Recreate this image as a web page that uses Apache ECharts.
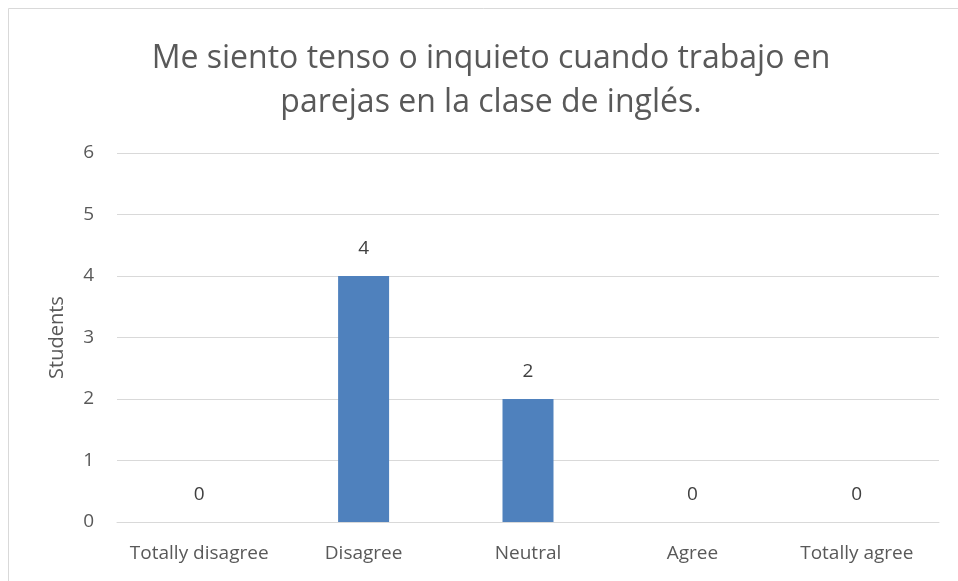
<!DOCTYPE html>
<html>
<head>
<meta charset="utf-8">
<script src="https://cdn.jsdelivr.net/npm/echarts@6/dist/echarts.min.js"></script>
<style>
  html, body { margin: 0; padding: 0; background: #fff; }
  #chart { width: 958px; height: 581px; }
</style>
</head>
<body>
<div id="chart"></div>
<script>
const titleText = 'Me siento tenso o inquieto cuando trabajo en\nparejas en la clase de inglés.'
const categories = ['Totally disagree', 'Disagree', 'Neutral', 'Agree', 'Totally agree']
const students = [0, 4, 2, 0, 0]
const yTicks = { min: 0, max: 6, interval: 1 }

const font = '"Open Sans", "Noto Sans", sans-serif'
const chart = echarts.init(document.getElementById('chart'), null, { renderer: 'canvas' })

chart.setOption({
  animation: false,
  backgroundColor: '#fff',
  textStyle: { fontFamily: font },
  graphic: [{
    type: 'rect',
    shape: { x: 8.5, y: 8.5, width: 960, height: 600 },
    style: { fill: 'none', stroke: '#d9d9d9', lineWidth: 1 },
    silent: true
  }],
  title: {
    text: titleText,
    left: 486,
    top: 32,
    textAlign: 'center',
    textStyle: {
      fontFamily: font,
      fontSize: 32,
      fontWeight: 'normal',
      color: '#595959',
      lineHeight: 44
    }
  },
  grid: { left: 117, right: 19, top: 153, bottom: 59, containLabel: false },
  xAxis: {
    type: 'category',
    data: categories,
    axisLine: { show: true, lineStyle: { color: '#d9d9d9', width: 1 } },
    axisTick: { show: false },
    axisLabel: { interval: 0, color: '#595959', fontSize: 19, margin: 22, fontFamily: font }
  },
  yAxis: {
    type: 'value',
    min: yTicks.min,
    max: yTicks.max,
    interval: yTicks.interval,
    name: 'Students',
    nameLocation: 'middle',
    nameGap: 50,
    nameRotate: 90,
    nameTextStyle: { color: '#595959', fontSize: 20, fontFamily: font },
    axisLine: { show: false },
    axisTick: { show: false },
    axisLabel: { color: '#595959', fontSize: 19, margin: 23, fontFamily: font },
    splitLine: { lineStyle: { color: '#d9d9d9', width: 1 } }
  },
  series: [{
    type: 'bar',
    data: students,
    barWidth: 51,
    itemStyle: { color: '#4f81bd' },
    label: {
      show: true,
      position: 'top',
      distance: 18,
      color: '#404040',
      fontSize: 19,
      fontFamily: font
    }
  }]
})
</script>
</body>
</html>
